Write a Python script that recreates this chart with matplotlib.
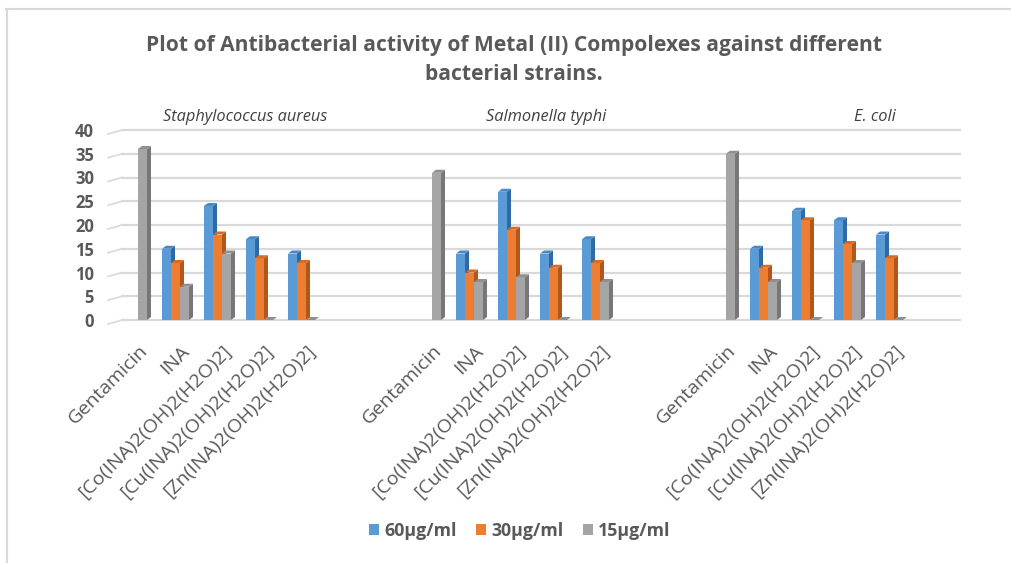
# Antibacterial activity of metal (II) complexes - 3D-look clustered columns
import matplotlib
matplotlib.use("Agg")
from matplotlib import pyplot as plt
from matplotlib.patches import Polygon, Patch
from matplotlib.lines import Line2D
import numpy as np

plt.rcParams['font.family'] = ['Open Sans', 'DejaVu Sans']

strains = ["Staphylococcus aureus", "Salmonella typhi", "E. coli"]
compounds = ["Gentamicin", "INA", "[Co(INA)2(OH)2(H2O)2]",
             "[Cu(INA)2(OH)2(H2O)2]", "[Zn(INA)2(OH)2(H2O)2]"]
series = ["60µg/ml", "30µg/ml", "15µg/ml"]

# values per strain, in compound order (None = no bar)
conc_60 = [[None, 15, 24, 17, 14],
           [None, 14, 27, 14, 17],
           [None, 15, 23, 21, 18]]
conc_30 = [[None, 12, 18, 13, 12],
           [None, 10, 19, 11, 12],
           [None, 11, 21, 16, 13]]
conc_15 = [[36, 7, 14, 0, 0],
           [31, 8, 9, 0, 8],
           [35, 8, 0, 12, 0]]

front = ["#5b9bd5", "#ed7d31", "#a5a5a5"]
side = ["#2f6aa6", "#b3561a", "#777777"]
top = ["#4a88c6", "#d86a22", "#8f8f8f"]
text_col = "#595959"

W, H = 1012, 563
fig = plt.figure(figsize=(W / 100, H / 100), dpi=100)

# pixel layout of plot area
px_left, px_right = 108, 960
px_zero, px_forty = 320, 130
ax = fig.add_axes([px_left / W, 1 - px_zero / H,
                   (px_right - px_left) / W, (px_zero - px_forty) / H])

slot_px = 42.0
first_center = 133.5
x0 = (px_left - first_center) / slot_px
x1 = (px_right - first_center) / slot_px
ax.set_xlim(x0, x1)
ax.set_ylim(0, 40)
for s in ax.spines.values():
    s.set_visible(False)
ax.set_xticks([])
ax.set_yticks(np.arange(0, 41, 5))
ax.tick_params(axis="y", length=0, pad=10, labelsize=12, labelcolor=text_col)
for lbl in ax.get_yticklabels():
    lbl.set_fontweight("bold")

# gridlines on the back wall, with a short slanted piece for the side wall
per_px_y = 40 / (px_zero - px_forty)
wall_x = (122 - first_center) / slot_px
for v in range(0, 41, 5):
    ax.plot([x0, wall_x], [v - 4 * per_px_y, v], color="#d9d9d9", lw=1.2,
            clip_on=False, zorder=0)
    ax.plot([wall_x, x1], [v, v], color="#d9d9d9", lw=1.6,
            clip_on=False, zorder=0)

bar_w = 9 / slot_px
dx = 4 / slot_px
dy = 3 * per_px_y


def draw_bar(xc, h, i):
    xl, xr = xc - bar_w / 2, xc + bar_w / 2
    if h > 0:
        ax.add_patch(Polygon([(xl, 0), (xr, 0), (xr, h), (xl, h)],
                             closed=True, fc=front[i], ec="none", zorder=3))
        ax.add_patch(Polygon([(xr, 0), (xr + dx, dy), (xr + dx, h + dy), (xr, h)],
                             closed=True, fc=side[i], ec="none", zorder=3))
    ax.add_patch(Polygon([(xl, h), (xr, h), (xr + dx, h + dy), (xl + dx, h + dy)],
                         closed=True, fc=top[i], ec="none", zorder=3,
                         clip_on=False))


trans = ax.get_xaxis_transform()
for g, strain in enumerate(strains):
    for c, comp in enumerate(compounds):
        k = g * 7 + c
        vals = [conc_60[g][c], conc_30[g][c], conc_15[g][c]]
        for i, v in enumerate(vals):
            if v is None:
                continue
            draw_bar(k + (i - 1) * bar_w, v, i)
        ax.text(k + 0.11, -0.115, comp, transform=trans, rotation=45,
                rotation_mode="anchor", ha="right", va="top",
                fontsize=14, color=text_col)

# strain labels above each group
label_px = [245, 546, 875]
for strain, lx in zip(strains, label_px):
    fig.text(lx / W, 1 - 117 / H, strain, ha="center", va="center",
             style="italic", fontsize=11.8, color="#404040")

fig.text(514 / W, 1 - 45 / H,
         "Plot of Antibacterial activity of Metal (II) Compolexes against different",
         ha="center", va="center", fontsize=15.1, fontweight="bold", color=text_col)
fig.text(514 / W, 1 - 74 / H, "bacterial strains.",
         ha="center", va="center", fontsize=15.1, fontweight="bold", color=text_col)

handles = [Patch(fc=front[i], ec="none") for i in range(3)]
fig.legend(handles, series, loc="center", bbox_to_anchor=(520 / W, 1 - 531 / H),
           ncol=3, frameon=False, handlelength=0.55, handleheight=0.55,
           handletextpad=0.3, columnspacing=1.1,
           prop={"weight": "bold", "size": 12.8}, labelcolor=text_col)

# chart frame (top and left edges visible)
fig.add_artist(Line2D([6 / W, 1], [1 - 9 / H, 1 - 9 / H], color="#d9d9d9", lw=1.5))
fig.add_artist(Line2D([7 / W, 7 / W], [0, 1 - 9 / H], color="#d9d9d9", lw=1.5))

fig.savefig("out.png", dpi=100, facecolor="white")
